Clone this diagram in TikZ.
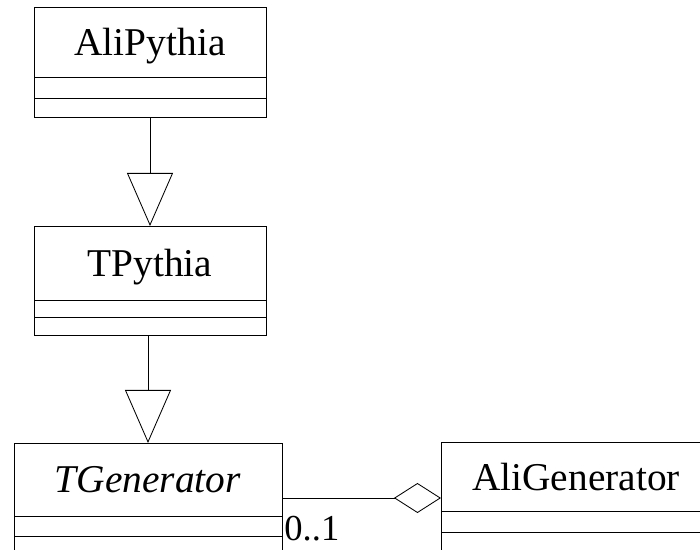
\documentclass[tikz,border=0pt]{standalone}
\usepackage{fontspec}
\setmainfont{Liberation Serif}
\usetikzlibrary{arrows.meta,positioning}

\tikzset{
	classname/.style={draw, line width=0.6pt, outer sep=0pt, inner sep=0pt, text depth=0pt, font=\fontsize{28}{32}\selectfont},
	classpart/.style={draw, line width=0.6pt, outer sep=0pt, inner sep=0pt, minimum height=0.5cm},
	inherit/.style={line width=0.6pt, -{Triangle[open, length=1.325cm, width=1.15cm]}},
	aggregate/.style={line width=0.6pt, -{Diamond[open, length=1.175cm, width=0.75cm]}},
}

\begin{document}
\begin{tikzpicture}[x=0.025cm, y=-0.025cm]
		%\draw[help lines] (0,0) grid[step=50] (700,550);
		\useasboundingbox (0,0) rectangle (700,550);
		\clip (0,0) rectangle (700,550);
		\node[classname, minimum width=5.8cm, minimum height=1.75cm] (alipythia) at (150,42) {AliPythia};
		\node[classpart, minimum width=5.8cm, minimum height=0.525cm, below=0pt of alipythia] (alipythia-attr) {};
		\node[classpart, minimum width=5.8cm, minimum height=0.475cm, below=0pt of alipythia-attr] (alipythia-ops) {};
		\node[classname, minimum width=5.8cm, minimum height=1.85cm] (tpythia) at (150,263) {TPythia};
		\node[classpart, minimum width=5.8cm, minimum height=0.425cm, below=0pt of tpythia] (tpythia-attr) {};
		\node[classpart, minimum width=5.8cm, minimum height=0.45cm, below=0pt of tpythia-attr] (tpythia-ops) {};
		\node[classname, minimum width=6.7cm, minimum height=1.825cm] (tgenerator) at (148,479.5) {\textit{TGenerator}};
		\node[classpart, minimum width=6.7cm, below=0pt of tgenerator] (tgenerator-attr) {};
		\node[classpart, minimum width=6.7cm, below=0pt of tgenerator-attr] (tgenerator-ops) {};
		\node[classname, minimum width=6.75cm, minimum height=1.725cm] (aligenerator) at (576,476.5) {AliGenerator};
		\node[classpart, minimum width=6.75cm, minimum height=0.525cm, below=0pt of aligenerator] (aligenerator-attr) {};
		\node[classpart, minimum width=6.75cm, below=0pt of aligenerator-attr] (aligenerator-ops) {};
		\draw[inherit] (alipythia-ops.south) -- (tpythia.north);
		\draw[inherit] (tpythia-ops.south -| tgenerator.north) -- (tgenerator.north);
		\draw[aggregate] ([yshift=-0.4625cm]tgenerator.east) -- ([yshift=-0.4625cm]tgenerator.east -| aligenerator.west)
			node[pos=0, anchor=north west, inner sep=0pt, xshift=0.05cm, yshift=-0.45cm, font=\fontsize{26}{30}\selectfont] (mult) {0..1};
\end{tikzpicture}
\end{document}
